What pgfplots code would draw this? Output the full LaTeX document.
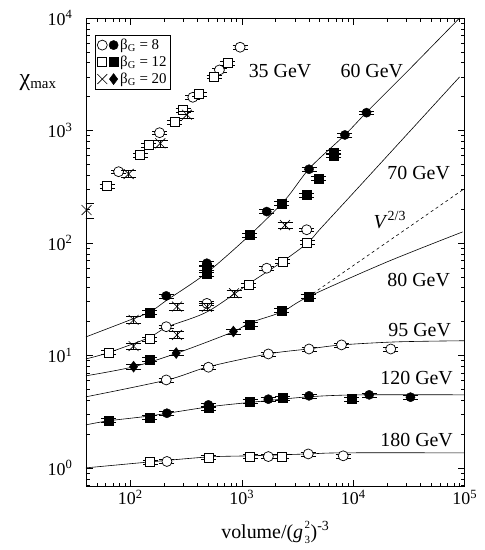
\documentclass[border=0pt]{standalone}
\usepackage{fontspec}
\setmainfont{Liberation Serif}
\usepackage{pgfplots}
\pgfplotsset{compat=1.18}

\begin{document}
\begin{tikzpicture}
\pgfplotsset{
  eb/.style={error bars/.cd, y dir=both, y fixed relative=#1,
     error bar style={black, line width=0.5pt},
     error mark options={black, rotate=90, mark size=7.5bp, line width=0.5pt}},
  ocirc/.style={only marks, mark=*, mark size=5bp, mark options={fill=white, draw=black, line width=0.7pt}},
  fcirc/.style={only marks, mark=*, mark size=4.6bp, mark options={fill=black, draw=black}},
  osq/.style={only marks, mark=square*, mark size=4.5bp, mark options={fill=white, draw=black, line width=0.7pt}},
  fsq/.style={only marks, mark=square*, mark size=4.5bp, mark options={fill=black, draw=black}},
  xm/.style={only marks, mark=x, mark size=7bp, mark options={draw=black, line width=0.6pt}},
  fdia/.style={only marks, mark=diamond*, mark size=5.5bp, mark options={fill=black, draw=black}},
  fit/.style={black, line width=0.6pt, smooth, no marks},
}
\begin{axis}[
  scale only axis, width=379bp, height=469bp,
  xmode=log, ymode=log,
  xmin=40, xmax=1e5, ymin=0.68, ymax=1e4,
  xtick={100,1000,10000,100000},
  xticklabels={10\textsuperscript{2},10\textsuperscript{3},10\textsuperscript{4},10\textsuperscript{5}},
  ytick={1,10,100,1000,10000},
  yticklabels={10\textsuperscript{0},10\textsuperscript{1},10\textsuperscript{2},10\textsuperscript{3},10\textsuperscript{4}},
  minor xtick={50,60,70,80,90,200,300,400,500,600,700,800,900,2000,3000,4000,5000,6000,7000,8000,9000,20000,30000,40000,50000,60000,70000,80000,90000},
  minor ytick={0.7,0.8,0.9,2,3,4,5,6,7,8,9,20,30,40,50,60,70,80,90,200,300,400,500,600,700,800,900,2000,3000,4000,5000,6000,7000,8000,9000},
  major tick length=7bp, minor tick length=4bp,
  tick style={black, line width=0.5pt},
  axis line style={black, line width=0.6pt},
  ticklabel style={font=\fontsize{18}{18}\selectfont},
  yticklabel style={xshift=-10bp},
  xlabel={volume/(\textit{g}\kern1.5bp\raisebox{-5bp}{\fontsize{11}{11}\selectfont\begin{tabular}[b]{@{}l@{}}2\\[4bp]3\end{tabular}}\kern0.5bp)\textsuperscript{-3}},
  xlabel style={font=\fontsize{20}{20}\selectfont, yshift=-9bp},
  clip mode=individual,
  legend style={at={(axis description cs:0.024,0.964)}, anchor=north west, draw=black, line width=0.5pt,
     font=\fontsize{15}{17}\selectfont, inner sep=2bp, row sep=1bp},
  legend cell align=left,
]
% legend
\addlegendimage{legend image code/.code={
  \draw[black, line width=0.7pt, mark=*, mark size=5bp, mark options={fill=white}] plot coordinates {(0.05cm,0cm)};
  \draw[black, mark=*, mark size=4.6bp] plot coordinates {(0.45cm,0cm)};}}
\addlegendentry{β\textsubscript{G} = 8}
\addlegendimage{legend image code/.code={
  \draw[black, line width=0.7pt, mark=square*, mark size=4.5bp, mark options={fill=white}] plot coordinates {(0.05cm,0cm)};
  \draw[black, mark=square*, mark size=4.5bp] plot coordinates {(0.45cm,0cm)};}}
\addlegendentry{β\textsubscript{G} = 12}
\addlegendimage{legend image code/.code={
  \draw[black, line width=0.6pt, mark=x, mark size=7bp] plot coordinates {(0.05cm,0cm)};
  \draw[black, mark=diamond*, mark size=5.5bp] plot coordinates {(0.45cm,0cm)};}}
\addlegendentry{β\textsubscript{G} = 20}

% fit curves
\addplot[fit] coordinates {(40,14.6) (100,20.7) (151,24.4) (214,31.1) (479,53.7) (1186,118) (2443,241) (4083,465) (8414,912) (13243,1459) (31623,3467) (89950,10000)};
\addplot[fit] coordinates {(40,9.31) (62.2,10.5) (145,14.3) (214,17.9) (489,24.4) (1186,44.1) (2296,67.8) (3890,100) (5012,132) (8770,241) (14090,402) (89950,2992)};
\addplot[fit] coordinates {(40,6.58) (106,7.91) (264,10.5) (836,16.2) (1186,19.5) (2296,24.4) (3926,33.1) (19953,67.6) (95700,125.3)};
\addplot[black, line width=0.6pt, dashed] coordinates {(3926,33.1) (95700,296)};
\addplot[fit] coordinates {(40,4.28) (214,6.05) (499,7.91) (1718,10.3) (3926,11.4) (7907,12.4) (25119,13.2) (100000,13.5)};
\addplot[fit] coordinates {(40,2.41) (63.5,2.62) (151,2.90) (499,3.48) (1186,3.82) (3926,4.28) (11482,4.46) (100000,4.46)};
\addplot[fit] coordinates {(40,1.0) (151,1.13) (499,1.25) (1186,1.28) (3926,1.33) (8072,1.36) (100000,1.36)};

% open circles
\addplot[ocirc, eb=0.04] coordinates {(966,5495) (630,3451) (364,1972) (183,955) (78.5,430)
  (486,29) (210,18.0) (3820,131) (1674,59.6)
  (502,7.85) (210,6.05) (1731,10.3) (4010,11.4) (7850,12.4) (21700,11.4)
  (213,1.14) (1731,1.26) (3946,1.33) (8130,1.28)};
% open squares
\addplot[osq, eb=0.04] coordinates {(743,3954) (565,3006) (415,2109) (297,1521) (249,1191) (147,743) (123,605) (61.8,321)
  (1146,42.4) (149,13.9) (64,10.6) (3870,101) (2327,68.2)
  (151,1.12) (502,1.24) (1186,1.26) (2281,1.26)};
% crosses
\addplot[xm, eb=0.07] coordinates {(322,1381) (186,769) (96.6,410)
  (2443,144) (262,27.2) (107,20.7)
  (486,27) (853,35.7) (262,15.2) (107,12.1)};
\addplot[xm, eb=0.15] coordinates {(40.5,196)};
% filled circles
\addplot[fcirc, eb=0.04] coordinates {(13150,1439) (8414,912) (4012,452) (1674,190) (486,66) (210,33.8)
  (213,3.06) (502,3.63) (1731,4.08) (4010,4.37) (13900,4.46) (32600,4.25)};
% filled squares
\addplot[fsq, eb=0.04] coordinates {(6700,640) (6700,600) (4854,376) (3819,267) (2281,225) (1169,118) (486,60) (486,53) (149,24.0)
  (1186,18.9) (149,9.25) (2281,25.0) (3946,33.4)
  (64,2.63) (149,2.82) (502,3.41) (1186,3.88) (2311,4.17) (9660,4.08)};
% filled diamonds
\addplot[fdia, eb=0.05] coordinates {(841,16.3) (258,10.5) (107,7.94)};

% labels
\node[font=\fontsize{20}{20}\selectfont] at (axis cs:2203,3381) {35 GeV};
\node[font=\fontsize{20}{20}\selectfont] at (axis cs:14690,3381) {60 GeV};
\node[font=\fontsize{20}{20}\selectfont] at (axis cs:38640,419) {70 GeV};
\node[font=\fontsize{20}{20}\selectfont] at (axis cs:21280,160) {\textit{V}\textsuperscript{2/3}};
\node[font=\fontsize{20}{20}\selectfont] at (axis cs:38640,46.9) {80 GeV};
\node[font=\fontsize{20}{20}\selectfont] at (axis cs:39450,16.9) {95 GeV};
\node[font=\fontsize{20}{20}\selectfont] at (axis cs:37060,6.31) {120 GeV};
\node[font=\fontsize{20}{20}\selectfont] at (axis cs:37060,1.77) {180 GeV};
\node[anchor=base] at (axis description cs:-0.127,0.855) {\fontsize{24}{24}\selectfont χ\fontsize{15}{15}\selectfont\raisebox{-3bp}{max}};

\path (axis description cs:0,0) ++(-86bp,-63bp) coordinate (bbsw);
\path (axis description cs:1,1) ++(20bp,18bp) coordinate (bbne);
\end{axis}
\path (bbsw) rectangle (bbne);
\end{tikzpicture}
\end{document}
